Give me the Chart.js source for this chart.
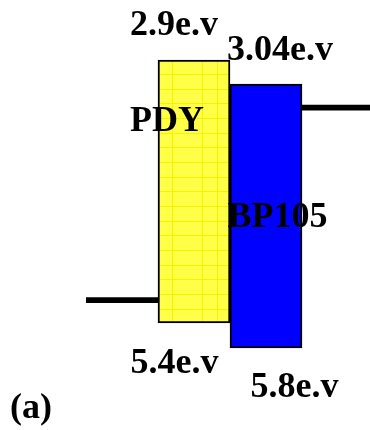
<!DOCTYPE html>
<html>
<head>
<meta charset="utf-8">
<script src="https://cdn.jsdelivr.net/npm/chart.js@4/dist/chart.umd.min.js"></script>
<style>
  html, body { margin: 0; padding: 0; background: #ffffff; overflow: hidden; }
  #wrap { position: relative; width: 374px; height: 430px; }
</style>
</head>
<body>
<div id="wrap"><canvas id="c" width="374" height="430"></canvas></div>
<script>
// Energy levels as drawn in the diagram (schematic, eV-like units, top = lower energy)
const categories   = ['left level', 'PDY', 'BP105', 'right level'];
const drawnTop     = [5.158, 2.90, 3.128, 3.328];
const drawnBottom  = [5.206, 5.40, 5.638, 3.376];
// Text labels
const levelLabels  = ['2.9e.v', '3.04e.v', '5.4e.v', '5.8e.v'];
const materialLabels = ['PDY', 'BP105'];
const panelLabel   = '(a)';

const yellowPattern = (function () {
  const p = document.createElement('canvas');
  p.width = 60; p.height = 44;
  const g = p.getContext('2d');
  g.fillStyle = '#ffff48';
  g.fillRect(0, 0, 60, 44);
  g.fillStyle = '#f4f400';
  [22, 37, 52].forEach(x => g.fillRect(x, 0, 1, 44));
  [1, 15, 30].forEach(y => g.fillRect(0, y, 60, 1));
  return g.createPattern(p, 'repeat');
})();

const textPlugin = {
  id: 'diagramText',
  afterDatasetsDraw(chart) {
    const ctx = chart.ctx;
    ctx.save();
    ctx.fillStyle = '#000000';
    ctx.font = 'bold 36px "Liberation Serif", "Times New Roman", serif';
    ctx.textBaseline = 'alphabetic';
    ctx.textAlign = 'center';
    ctx.fillText(levelLabels[0], 174, 35);
    ctx.fillText(levelLabels[1], 280, 60);
    ctx.fillText(materialLabels[0], 167, 131);
    ctx.fillText(materialLabels[1], 277.5, 227);
    ctx.fillText(levelLabels[2], 174.5, 373);
    ctx.fillText(levelLabels[3], 294.5, 397);
    ctx.textAlign = 'left';
    ctx.fillText(panelLabel, 10, 418);
    ctx.restore();
  }
};

new Chart(document.getElementById('c'), {
  type: 'bar',
  data: {
    labels: categories,
    datasets: [{
      data: categories.map((_, i) => [drawnTop[i], drawnBottom[i]]),
      backgroundColor: ['#000000', yellowPattern, '#0000ff', '#000000'],
      borderColor: '#000000',
      borderWidth: [0, 2, 2, 0],
      borderSkipped: false,
      barPercentage: 1,
      categoryPercentage: 1
    }]
  },
  options: {
    responsive: false,
    animation: false,
    devicePixelRatio: 1,
    layout: { padding: { left: 86, right: 0, top: 0, bottom: 0 } },
    plugins: { legend: { display: false }, tooltip: { enabled: false } },
    scales: {
      x: { display: false, offset: true, grid: { display: false } },
      y: { display: false, reverse: true, min: 2.33, max: 6.417, grid: { display: false } }
    }
  },
  plugins: [textPlugin]
});
</script>
</body>
</html>
